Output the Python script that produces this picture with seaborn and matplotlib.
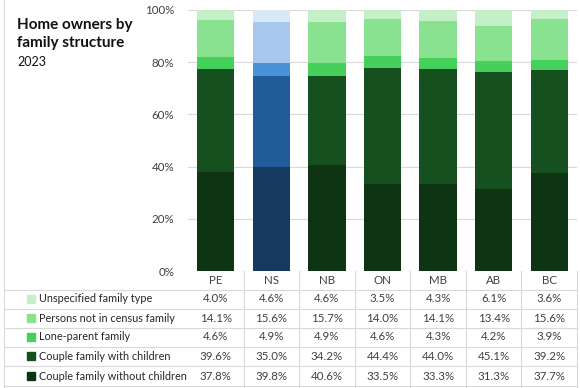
import numpy as np
import pandas as pd
import matplotlib
matplotlib.use("Agg")
import matplotlib.pyplot as plt
import seaborn as sns
from matplotlib.lines import Line2D
from matplotlib.patches import Rectangle
from matplotlib.transforms import blended_transform_factory

# Data ----------------------------------------------------------------------
provinces = ["PE", "NS", "NB", "ON", "MB", "AB", "BC"]
without_children = [37.8, 39.8, 40.6, 33.5, 33.3, 31.3, 37.7]
with_children = [39.6, 35.0, 34.2, 44.4, 44.0, 45.1, 39.2]
lone_parent = [4.6, 4.9, 4.9, 4.6, 4.3, 4.2, 3.9]
not_in_family = [14.1, 15.6, 15.7, 14.0, 14.1, 13.4, 15.6]
unspecified = [4.0, 4.6, 4.6, 3.5, 4.3, 6.1, 3.6]

series_names = ["Couple family without children", "Couple family with children",
                "Lone-parent family", "Persons not in census family",
                "Unspecified family type"]
series_vals = [without_children, with_children, lone_parent, not_in_family, unspecified]

greens = ["#0e3413", "#16501f", "#44d05a", "#88e290", "#c4efc8"]
blues = ["#163a5e", "#1f5c99", "#4a92d8", "#a7c8ec", "#dae7f7"]
highlight = "NS"

# Figure --------------------------------------------------------------------
W, H = 580, 388
fig = plt.figure(figsize=(W / 100, H / 100), dpi=100)
plt.rcParams["font.family"] = ["Lato", "DejaVu Sans"]
ax = fig.add_axes([188 / W, 1 - 271 / H, (577 - 188) / W, (271 - 10) / H])

# stacked bars: draw cumulative totals from top layer down
cum = np.cumsum(np.array(series_vals), axis=0)
for i in range(len(series_names) - 1, -1, -1):
    d = pd.DataFrame({"Province": provinces, "Total": cum[i]})
    pal = {p: (blues[i] if p == highlight else greens[i]) for p in provinces}
    sns.barplot(data=d, x="Province", y="Total", hue="Province", palette=pal,
                order=provinces, width=0.67, legend=False, saturation=1,
                linewidth=0, ax=ax, zorder=3)

ax.set_xlim(-0.5, len(provinces) - 0.5)
ax.set_ylim(0, 100)
ax.set_yticks(range(0, 101, 20))
ax.set_yticklabels([f"{v}%" for v in range(0, 101, 20)], fontsize=8.3, color="#404040")
ax.tick_params(axis="y", length=0, pad=10)
ax.set_xticks([])
ax.set_xlabel("")
ax.set_ylabel("")
ax.grid(axis="y", color="#d9d9d9", linewidth=0.8, zorder=0)
for s in ax.spines.values():
    s.set_visible(False)

# Title -----------------------------------------------------------------------
fig.text(17 / W, 1 - 34 / H, "Home owners by\nfamily structure", fontsize=11,
         fontweight="bold", ha="left", va="center", linespacing=1.35, color="#111111")
fig.text(17 / W, 1 - 62 / H, "2023", fontsize=9, ha="left", va="center", color="#111111")

# Data table ----------------------------------------------------------------
tr = blended_transform_factory(ax.transData, fig.transFigure)
grid_c = "#d9d9d9"
header_y = 281
row_ys = [299, 318, 337, 356, 376]
row_lines = [290, 309, 328, 347, 366, 386]

for j, p in enumerate(provinces):
    ax.text(j, 1 - header_y / H, p, transform=tr, ha="center", va="center",
            fontsize=8.3, color="#404040", clip_on=False)

# table rows top-to-bottom: unspecified first
for r, i in enumerate(range(len(series_names) - 1, -1, -1)):
    y = 1 - row_ys[r] / H
    fig.patches.append(Rectangle((27 / W, y - 4 / H), 8 / W, 8 / H,
                                 transform=fig.transFigure, color=greens[i]))
    fig.text(39 / W, y, series_names[i], fontsize=7.8, ha="left", va="center",
             color="#262626")
    for j in range(len(provinces)):
        ax.text(j, y, f"{series_vals[i][j]:.1f}%", transform=tr, ha="center",
                va="center", fontsize=8.3, color="#404040", clip_on=False)

for yl in row_lines:
    fig.lines.append(Line2D([4 / W, 577 / W], [1 - yl / H, 1 - yl / H],
                            transform=fig.transFigure, color=grid_c, linewidth=0.8))
for j in range(len(provinces)):
    xb = j + 0.5
    ax.add_line(Line2D([xb, xb], [1 - 271 / H, 1 - 388 / H], transform=tr,
                       color=grid_c, linewidth=0.8, clip_on=False))
fig.lines.append(Line2D([4 / W, 4 / W], [0, 1], transform=fig.transFigure,
                        color=grid_c, linewidth=0.8))

fig.savefig("out.png", dpi=100)
